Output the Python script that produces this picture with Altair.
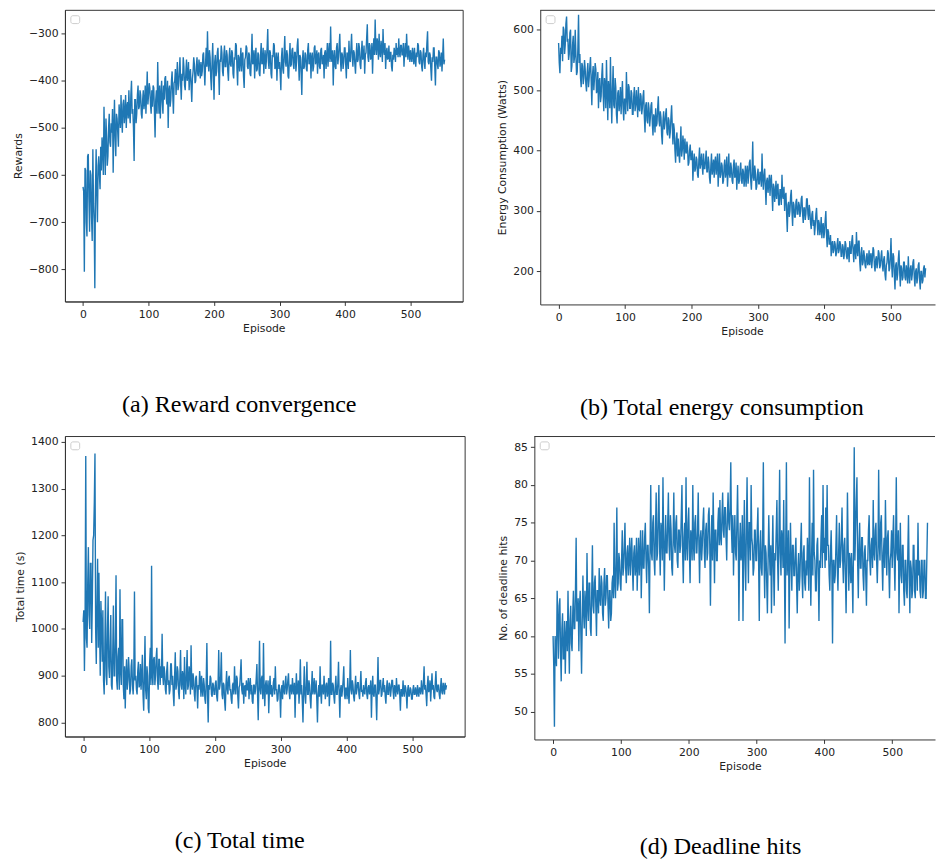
import altair as alt
import pandas as pd

# One value per episode (0..552)
episodes = list(range(0, 553))

rewards = [
    -625, -635, -805, -585, -590, -700, -730, -560, -555, -650, -720, -590, -600, -690, -740, -545, -660, -700, -840, -630,
    -545, -640, -700, -580, -560, -600, -630, -540, -590, -520, -540, -600, -455, -530, -600, -480, -520, -580, -560, -500,
    -470, -530, -540, -490, -510, -460, -595, -500, -440, -520, -560, -470, -480, -510, -540, -450, -470, -500, -430, -480,
    -510, -450, -440, -490, -470, -430, -500, -455, -445, -480, -420, -470, -490, -430, -400, -470, -460, -500, -570, -440,
    -440, -490, -470, -430, -410, -460, -455, -420, -430, -470, -480, -440, -420, -460, -445, -410, -470, -430, -380, -450,
    -430, -405, -415, -450, -470, -420, -455, -410, -415, -465, -520, -440, -420, -470, -360, -430, -470, -410, -480, -430,
    -400, -445, -470, -410, -440, -395, -390, -435, -450, -400, -500, -420, -410, -455, -440, -400, -380, -430, -470, -405,
    -400, -375, -430, -395, -360, -420, -410, -380, -350, -405, -440, -385, -400, -350, -370, -410, -420, -380, -355, -400,
    -390, -360, -420, -385, -375, -410, -445, -395, -380, -350, -365, -405, -400, -370, -350, -385, -390, -355, -370, -395,
    -360, -390, -380, -345, -340, -375, -410, -365, -330, -370, -295, -360, -380, -335, -350, -395, -420, -360, -320, -380,
    -440, -360, -345, -390, -380, -340, -330, -375, -430, -355, -360, -325, -340, -380, -390, -345, -325, -370, -370, -335,
    -345, -380, -400, -350, -330, -365, -370, -335, -340, -385, -395, -350, -355, -320, -325, -375, -410, -345, -350, -380,
    -360, -330, -380, -345, -340, -390, -415, -355, -350, -325, -330, -370, -375, -340, -345, -385, -390, -350, -300, -365,
    -360, -335, -395, -350, -330, -380, -375, -340, -345, -385, -390, -345, -320, -365, -360, -330, -385, -350, -335, -375,
    -355, -330, -290, -360, -375, -335, -340, -385, -395, -345, -350, -320, -325, -375, -370, -340, -400, -355, -340, -375,
    -360, -385, -420, -350, -330, -375, -385, -340, -305, -360, -370, -335, -345, -390, -395, -350, -320, -370, -365, -335,
    -330, -365, -375, -340, -340, -380, -360, -325, -310, -355, -400, -345, -350, -385, -430, -355, -335, -375, -370, -340,
    -345, -375, -380, -335, -320, -365, -360, -340, -395, -350, -340, -380, -370, -330, -325, -365, -355, -335, -385, -345,
    -340, -370, -375, -335, -330, -365, -360, -345, -395, -340, -335, -375, -350, -320, -370, -340, -320, -360, -285, -350,
    -360, -335, -410, -350, -335, -370, -375, -330, -320, -365, -350, -325, -300, -355, -380, -340, -345, -375, -360, -330,
    -330, -365, -395, -340, -345, -375, -315, -355, -360, -330, -300, -350, -370, -335, -340, -365, -385, -345, -320, -360,
    -355, -320, -330, -365, -375, -340, -315, -355, -350, -325, -385, -345, -340, -310, -280, -350, -360, -320, -325, -355,
    -350, -320, -385, -335, -310, -345, -270, -330, -345, -310, -320, -355, -300, -340, -350, -315, -330, -360, -290, -335,
    -345, -320, -375, -340, -330, -355, -350, -325, -360, -340, -340, -370, -380, -345, -355, -330, -340, -360, -320, -345,
    -330, -350, -310, -340, -350, -325, -325, -345, -345, -320, -370, -340, -320, -350, -300, -335, -355, -325, -340, -360,
    -335, -350, -360, -330, -345, -365, -330, -355, -370, -340, -350, -320, -325, -360, -365, -335, -340, -370, -380, -345,
    -330, -360, -375, -340, -350, -320, -295, -360, -365, -340, -345, -375, -400, -350, -360, -330, -330, -370, -410, -350,
    -350, -365, -375, -335, -340, -370, -360, -340, -380, -350, -310, -365, -355,
]

energy = [
    578, 545, 528, 570, 560, 590, 548, 605, 600, 560, 575, 610, 622, 580, 585, 550, 560, 595, 600, 530,
    540, 575, 590, 545, 555, 600, 560, 525, 530, 570, 625, 545, 560, 520, 505, 545, 540, 510, 520, 550,
    535, 510, 498, 530, 545, 505, 520, 540, 555, 515, 475, 525, 540, 500, 520, 545, 535, 495, 500, 530,
    470, 515, 520, 480, 490, 525, 545, 495, 465, 520, 510, 470, 550, 500, 450, 515, 500, 470, 555, 490,
    445, 500, 540, 475, 470, 520, 505, 460, 445, 495, 500, 465, 480, 505, 460, 490, 515, 470, 450, 485,
    485, 460, 530, 490, 465, 510, 505, 470, 470, 500, 495, 460, 460, 490, 505, 465, 475, 500, 480, 455,
    505, 470, 465, 495, 490, 460, 470, 490, 500, 455, 430, 475, 480, 450, 445, 480, 470, 440, 455, 475,
    480, 445, 425, 460, 455, 430, 470, 440, 445, 470, 490, 450, 440, 465, 455, 425, 410, 450, 465, 435,
    445, 460, 470, 430, 425, 455, 450, 420, 430, 455, 475, 440, 410, 445, 435, 400, 380, 420, 430, 390,
    420, 395, 380, 410, 440, 390, 400, 425, 410, 385, 420, 400, 395, 415, 405, 375, 380, 400, 410, 385,
    385, 400, 350, 380, 395, 365, 370, 390, 385, 360, 355, 385, 405, 370, 380, 395, 375, 360, 395, 370,
    370, 385, 400, 365, 365, 390, 380, 355, 345, 375, 395, 360, 370, 385, 355, 380, 390, 360, 375, 395,
    340, 370, 395, 355, 360, 380, 375, 345, 350, 375, 385, 355, 365, 390, 340, 365, 395, 360, 355, 380,
    370, 350, 345, 375, 385, 355, 360, 380, 335, 360, 375, 345, 350, 370, 380, 350, 345, 370, 365, 340,
    355, 375, 340, 365, 375, 345, 360, 380, 385, 350, 335, 365, 415, 355, 350, 375, 365, 335, 340, 360,
    370, 345, 345, 365, 360, 340, 395, 355, 335, 360, 370, 340, 310, 350, 355, 330, 345, 360, 325, 350,
    360, 330, 300, 345, 340, 315, 330, 350, 320, 340, 345, 310, 310, 335, 335, 310, 360, 325, 320, 340,
    300, 325, 330, 295, 265, 310, 315, 290, 300, 325, 335, 300, 275, 315, 310, 290, 290, 315, 320, 295,
    295, 315, 310, 290, 300, 320, 325, 295, 280, 305, 305, 285, 295, 320, 320, 295, 285, 310, 300, 280,
    270, 295, 300, 275, 285, 260, 275, 295, 305, 280, 260, 285, 280, 260, 270, 290, 255, 275, 280, 255,
    265, 285, 300, 260, 240, 270, 265, 245, 245, 260, 225, 245, 250, 230, 235, 250, 245, 225, 230, 245,
    255, 230, 235, 250, 245, 225, 225, 245, 240, 220, 230, 250, 245, 225, 220, 240, 235, 215, 250, 230,
    230, 250, 260, 235, 215, 240, 245, 220, 265, 235, 225, 250, 250, 215, 200, 230, 240, 210, 215, 235,
    225, 210, 205, 225, 230, 210, 215, 235, 210, 225, 230, 205, 220, 240, 235, 210, 200, 220, 225, 205,
    215, 235, 230, 205, 210, 225, 235, 210, 200, 220, 225, 195, 185, 210, 215, 235, 230, 200, 205, 225,
    255, 210, 190, 230, 225, 195, 170, 210, 215, 185, 195, 220, 235, 200, 175, 210, 205, 185, 190, 215,
    215, 190, 185, 210, 200, 180, 225, 195, 180, 205, 210, 185, 195, 215, 220, 190, 175, 200, 205, 180,
    190, 210, 215, 185, 170, 200, 200, 180, 185, 205, 210, 190, 205,
]

total_time = [
    1015, 1040, 910, 1020, 1370, 980, 960, 1100, 1175, 1030, 1000, 1140, 1140, 970, 1060, 1190, 1200, 1270, 1375, 1000,
    925, 1050, 1150, 960, 1120, 1000, 900, 1060, 1010, 930, 1040, 890, 860, 960, 1080, 900, 880, 1000, 1070, 920,
    895, 960, 1030, 880, 870, 950, 1050, 900, 900, 980, 1115, 890, 870, 940, 960, 870, 1085, 910, 880, 1020,
    1020, 880, 850, 920, 830, 900, 935, 870, 890, 940, 910, 860, 870, 920, 935, 880, 860, 900, 1080, 890,
    900, 870, 860, 910, 930, 875, 880, 925, 870, 900, 945, 860, 825, 900, 985, 870, 850, 920, 900, 830,
    820, 925, 960, 880, 1135, 900, 880, 935, 940, 880, 900, 940, 960, 890, 870, 935, 935, 880, 920, 895,
    990, 900, 880, 920, 905, 870, 860, 910, 930, 880, 890, 860, 870, 925, 925, 880, 900, 860, 835, 900,
    950, 870, 880, 920, 910, 865, 850, 900, 955, 880, 870, 910, 900, 850, 940, 880, 860, 905, 955, 870,
    880, 920, 910, 860, 965, 880, 870, 905, 890, 860, 845, 895, 900, 870, 830, 880, 870, 910, 890, 855,
    900, 870, 855, 895, 880, 850, 840, 890, 970, 860, 800, 880, 870, 900, 895, 860, 855, 885, 880, 860,
    860, 885, 890, 855, 845, 880, 955, 870, 880, 900, 950, 860, 850, 885, 880, 845, 825, 880, 910, 870,
    860, 895, 900, 870, 870, 850, 840, 880, 885, 860, 920, 875, 860, 900, 895, 855, 830, 875, 880, 905,
    935, 870, 860, 885, 840, 875, 880, 855, 890, 870, 870, 895, 850, 880, 895, 860, 880, 845, 840, 880,
    880, 860, 870, 895, 925, 860, 805, 880, 975, 870, 860, 895, 900, 850, 970, 870, 835, 880, 890, 860,
    870, 890, 820, 870, 900, 860, 880, 855, 860, 885, 895, 860, 920, 870, 870, 845, 850, 880, 880, 860,
    810, 870, 880, 850, 890, 870, 860, 885, 900, 860, 870, 890, 905, 865, 850, 880, 880, 860, 895, 870,
    860, 885, 810, 870, 905, 860, 870, 890, 840, 875, 935, 860, 880, 845, 800, 870, 920, 860, 840, 880,
    930, 860, 860, 890, 880, 850, 830, 875, 910, 860, 870, 895, 860, 870, 890, 850, 800, 860, 880, 855,
    920, 865, 840, 880, 880, 860, 900, 870, 850, 880, 885, 855, 870, 895, 835, 870, 975, 860, 860, 885,
    880, 855, 840, 875, 900, 860, 860, 885, 930, 860, 810, 870, 880, 855, 870, 890, 920, 860, 850, 875,
    870, 850, 895, 865, 840, 880, 955, 870, 860, 890, 880, 855, 845, 875, 900, 860, 870, 885, 885, 860,
    850, 880, 910, 865, 870, 855, 880, 865, 860, 885, 895, 860, 850, 875, 880, 860, 870, 890, 810, 870,
    900, 860, 855, 880, 880, 850, 805, 875, 940, 860, 870, 890, 890, 855, 860, 880, 895, 865, 880, 855,
    840, 875, 890, 860, 860, 885, 880, 855, 870, 890, 890, 865, 850, 880, 875, 855, 895, 870, 860, 880,
    880, 860, 825, 870, 870, 855, 890, 865, 855, 880, 875, 860, 830, 870, 880, 855, 860, 875, 870, 850,
    850, 870, 880, 860, 860, 875, 865, 855, 880, 865, 855, 875, 870, 860, 890, 870, 860, 885, 920, 870,
    880, 860, 835, 880, 900, 865, 870, 890, 845, 875, 905, 870, 880, 855, 850, 885, 910, 870, 865, 880,
    880, 860, 850, 875, 895, 865, 860, 885, 875, 860, 885, 870, 880,
]

deadline_hits = [
    60, 56, 48, 60, 58, 56, 66, 62, 57, 64, 65, 58, 54, 61, 63, 57, 57, 62, 55, 60,
    62, 58, 66, 60, 55, 62, 64, 59, 58, 63, 66, 61, 61, 66, 73, 62, 62, 65, 58, 64,
    66, 60, 55, 62, 68, 63, 61, 66, 64, 60, 71, 64, 62, 67, 67, 61, 60, 66, 72, 64,
    63, 67, 68, 64, 60, 66, 66, 63, 69, 65, 64, 68, 67, 63, 62, 67, 69, 64, 65, 68,
    68, 64, 61, 66, 66, 62, 63, 67, 68, 65, 75, 67, 65, 70, 77, 66, 67, 71, 70, 67,
    66, 70, 74, 68, 69, 72, 75, 69, 67, 71, 72, 68, 70, 73, 68, 71, 73, 69, 66, 71,
    72, 68, 69, 73, 66, 70, 73, 68, 71, 74, 65, 70, 74, 69, 69, 73, 75, 70, 67, 72,
    72, 69, 63, 72, 80, 71, 70, 75, 76, 70, 68, 74, 79, 70, 71, 76, 80, 72, 68, 75,
    74, 70, 81, 73, 66, 72, 76, 71, 71, 75, 79, 72, 70, 76, 74, 69, 68, 73, 79, 72,
    71, 75, 76, 70, 69, 74, 74, 71, 72, 76, 80, 71, 67, 73, 75, 70, 81, 72, 70, 75,
    77, 71, 67, 74, 73, 70, 80, 72, 70, 75, 76, 71, 71, 74, 79, 72, 67, 73, 74, 70,
    72, 75, 77, 71, 69, 74, 75, 70, 71, 76, 77, 72, 64, 72, 76, 70, 79, 73, 67, 74,
    74, 70, 70, 75, 77, 72, 78, 73, 72, 76, 79, 74, 73, 77, 77, 73, 70, 76, 79, 75,
    74, 77, 83, 74, 71, 76, 68, 73, 76, 71, 70, 75, 80, 73, 62, 72, 75, 70, 71, 76,
    62, 72, 78, 70, 66, 74, 81, 72, 67, 75, 75, 70, 80, 73, 72, 68, 69, 74, 74, 70,
    70, 74, 77, 70, 62, 72, 74, 69, 68, 73, 83, 70, 65, 72, 71, 67, 63, 70, 76, 71,
    68, 72, 63, 70, 76, 69, 64, 71, 70, 74, 78, 70, 66, 73, 82, 71, 68, 74, 73, 69,
    78, 70, 59, 72, 83, 68, 70, 74, 61, 69, 75, 70, 66, 72, 72, 68, 68, 71, 73, 67,
    63, 69, 71, 66, 68, 72, 75, 68, 65, 71, 72, 67, 66, 70, 68, 73, 70, 66, 81, 71,
    64, 70, 75, 68, 82, 71, 70, 66, 66, 72, 73, 68, 62, 70, 69, 73, 76, 69, 80, 71,
    73, 69, 77, 70, 80, 72, 72, 68, 66, 71, 74, 69, 59, 70, 70, 67, 68, 72, 76, 69,
    66, 71, 75, 69, 70, 73, 77, 70, 67, 72, 73, 68, 63, 70, 79, 72, 66, 71, 70, 67,
    71, 68, 63, 72, 85, 70, 74, 78, 81, 70, 65, 72, 75, 69, 69, 73, 73, 68, 66, 71,
    72, 68, 64, 70, 70, 74, 76, 70, 68, 72, 73, 69, 78, 71, 70, 74, 75, 70, 67, 71,
    82, 72, 70, 75, 76, 70, 66, 71, 73, 69, 78, 72, 68, 73, 74, 69, 65, 70, 71, 74,
    69, 73, 76, 70, 66, 72, 81, 71, 70, 74, 63, 70, 75, 68, 67, 72, 72, 66, 64, 70,
    70, 66, 65, 71, 76, 68, 63, 70, 69, 65, 66, 72, 72, 66, 65, 70, 70, 66, 75, 68,
    70, 66, 65, 70, 70, 65, 66, 70, 70, 65, 65, 70, 75,
]

x_ticks = [0, 100, 200, 300, 400, 500]

LINE = "#1f77b4"
FRAME = "#333333"
AXFONT = "DejaVu Sans"
CAPFONT = "Liberation Serif"


def panel(values, ytitle, xdom, ydom, yticks, w, h, caption, cap_dx, cap_off,
          framed, title_x=None):
    df = pd.DataFrame({"Episode": episodes, "value": values})
    xaxis_kw = dict(values=x_ticks, title="Episode")
    if title_x is not None:
        xaxis_kw["titleX"] = title_x
    line = alt.Chart(df).mark_line(color=LINE, strokeWidth=1.4).encode(
        x=alt.X("Episode:Q", scale=alt.Scale(domain=xdom, nice=False, zero=False),
                axis=alt.Axis(**xaxis_kw)),
        y=alt.Y("value:Q", scale=alt.Scale(domain=ydom, nice=False, zero=False),
                axis=alt.Axis(values=yticks, title=ytitle, format="d")),
    )
    dummy = pd.DataFrame({"k": [0]})
    box = alt.Chart(dummy).mark_rect(
        fill="white", stroke="#cccccc", strokeWidth=1, cornerRadius=2
    ).encode(x=alt.value(6), x2=alt.value(15), y=alt.value(6), y2=alt.value(14))
    layers = [line, box]
    if not framed:
        top = alt.Chart(dummy).mark_rule(color=FRAME, strokeWidth=1).encode(
            x=alt.value(0), x2=alt.value(w), y=alt.value(0.5))
        layers.append(top)
    ch = alt.layer(*layers).properties(
        width=w, height=h,
        title=alt.TitleParams(text=caption, orient="bottom", anchor="middle",
                              offset=cap_off, dx=cap_dx, font=CAPFONT, fontSize=24.5,
                              fontWeight="normal", color="black"),
    )
    if not framed:
        ch = ch.properties(view=alt.ViewBackground(stroke="transparent"))
    return ch


pa = panel(rewards, "Rewards", [-27.6, 579.6], [-868.1, -249.4],
           [-800, -700, -600, -500, -400, -300], 405, 297,
           "(a) Reward convergence", -25, 61, True)
pb = panel(energy, "Energy Consumption (Watts)", [-27.6, 566.2], [145.2, 633.0],
           [200, 300, 400, 500, 600], 402, 300,
           "(b) Total energy consumption", -16, 61, False, title_x=205.5)
pc = panel(total_time, "Total time (s)", [-27.6, 579.6], [770, 1412.6],
           [800, 900, 1000, 1100, 1200, 1300, 1400], 407, 306,
           "(c) Total time", -25.5, 62, True)
pd_ = panel(deadline_hits, "No. of deadline hits", [-27.6, 563.1], [46.31, 86.47],
            [50, 55, 60, 65, 70, 75, 80, 85], 408, 309,
            "(d) Deadline hits", -14.5, 65, False, title_x=209.4)

row1 = alt.hconcat(pa, pb, spacing=33)
row2 = alt.hconcat(pc, pd_, spacing=32)

chart = alt.vconcat(row1, row2, spacing=15).properties(
    padding={"left": 4, "top": -7, "right": 0, "bottom": 0}, background="white"
).configure_view(
    stroke=FRAME, strokeWidth=1
).configure_axis(
    grid=False, domain=True, domainColor=FRAME, domainWidth=1,
    tickColor=FRAME, tickSize=4, tickWidth=1,
    labelFont=AXFONT, labelFontSize=11, labelColor="#222222", labelPadding=3,
    titleFont=AXFONT, titleFontSize=11, titleColor="#222222",
    titleFontWeight="normal",
).configure_axisX(titlePadding=4).configure_axisY(titlePadding=5)

chart.save("out.html", embed_options={"renderer": "svg", "actions": False})
